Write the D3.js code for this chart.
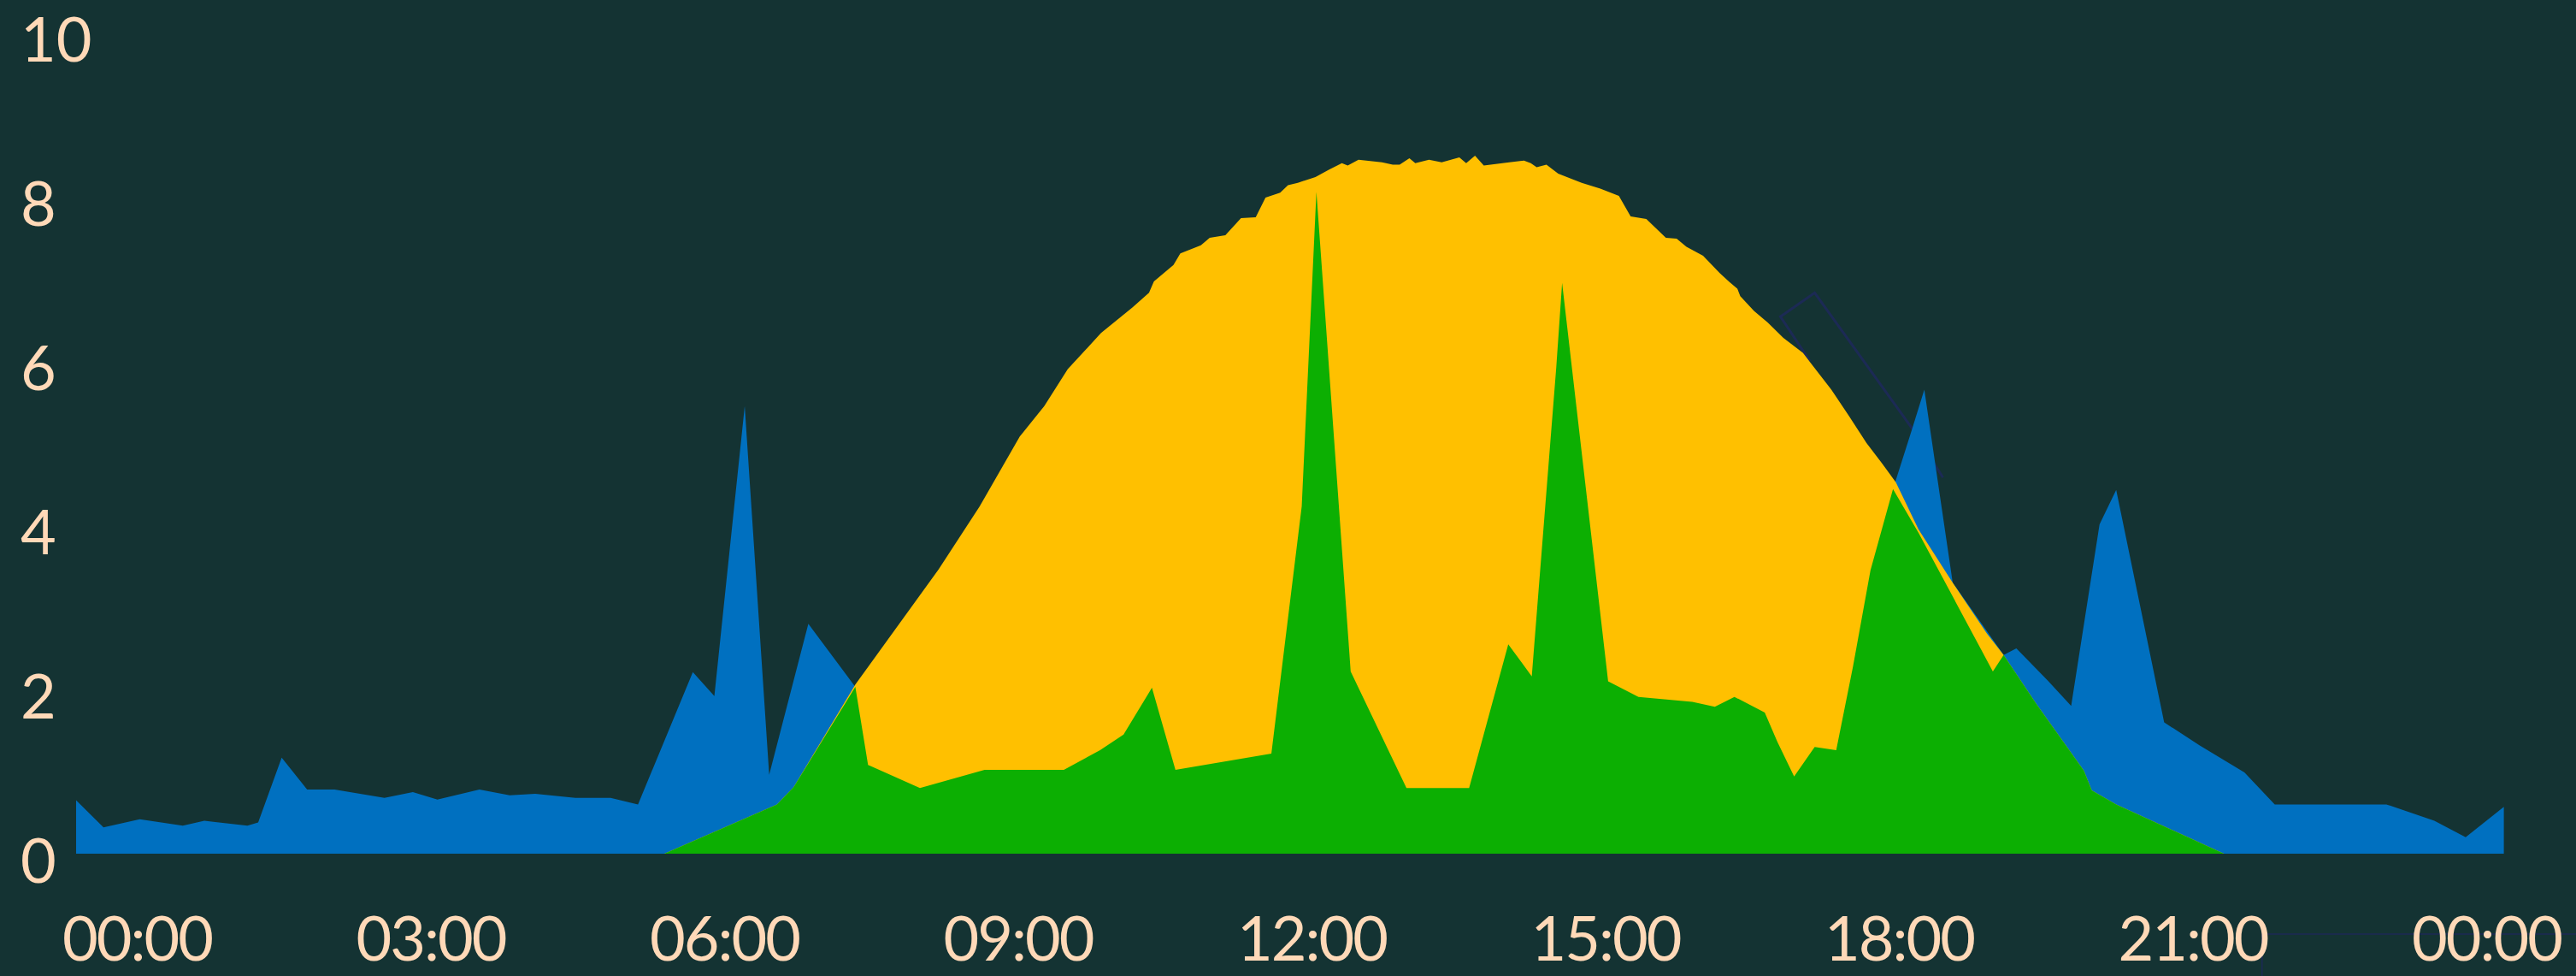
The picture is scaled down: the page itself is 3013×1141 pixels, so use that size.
<!DOCTYPE html>
<html>
<head>
<meta charset="utf-8">
<script src="https://cdn.jsdelivr.net/npm/d3@7/dist/d3.min.js"></script>
<style>
html,body{margin:0;padding:0;background:#143333;overflow:hidden;}
svg{display:block;}
</style>
</head>
<body>
<svg id="chart" width="3013" height="1141"></svg>
<script>
// ---- data (time in hours of day, value in kW) ----
const consumptionT = [-0.62,-0.34,0.03,0.47,0.69,1.13,1.24,1.48,1.74,2.02,2.53,2.82,3.07,3.50,3.81,4.07,4.48,4.84,5.12,5.68,5.90,6.21,6.46,6.86,7.34,7.47,8.00,8.66,9.47,9.84,10.08,10.37,10.61,11.59,11.90,12.03,12.40,12.97,13.61,14.01,14.25,14.50,14.56,15.03,15.34,15.89,16.12,16.32,16.63,16.76,16.93,17.14,17.36,17.53,17.71,17.94,18.14,18.26,18.55,19.07,19.20,19.52,19.76,20.05,20.22,20.71,21.07,21.53,21.84,22.98,23.47,23.79,24.18];
const consumptionV = [0.65,0.32,0.42,0.34,0.40,0.34,0.38,1.17,0.78,0.78,0.68,0.75,0.66,0.78,0.71,0.73,0.68,0.68,0.60,2.21,1.92,5.45,0.96,2.80,2.03,1.08,0.80,1.02,1.02,1.26,1.45,2.02,1.02,1.22,4.23,8.06,2.22,0.80,0.80,2.55,2.16,5.92,6.95,2.10,1.91,1.85,1.79,1.91,1.72,1.36,0.94,1.30,1.26,2.27,3.45,4.44,5.19,5.65,3.30,2.42,2.50,2.11,1.80,4.01,4.43,1.60,1.32,0.99,0.60,0.60,0.40,0.20,0.57];

const productionT = [5.39,6.54,6.71,7.34,8.19,8.61,9.02,9.27,9.51,9.85,10.17,10.34,10.39,10.59,10.66,10.87,10.96,11.12,11.28,11.43,11.53,11.68,11.76,11.86,12.04,12.18,12.31,12.37,12.48,12.72,12.83,12.90,13.00,13.06,13.20,13.33,13.51,13.58,13.67,13.76,14.02,14.17,14.24,14.30,14.40,14.52,14.76,14.95,15.14,15.26,15.42,15.62,15.73,15.83,16.00,16.17,16.27,16.35,16.38,16.52,16.66,16.82,17.02,17.09,17.31,17.49,17.67,17.83,17.97,18.20,18.55,18.90,19.07,19.40,19.89,19.97,20.22,21.32];
const productionV = [0,0.60,0.81,2.06,3.46,4.23,5.08,5.45,5.90,6.34,6.65,6.83,6.97,7.17,7.31,7.41,7.50,7.53,7.74,7.75,7.99,8.05,8.14,8.17,8.24,8.33,8.41,8.38,8.45,8.42,8.39,8.39,8.47,8.41,8.45,8.42,8.48,8.41,8.50,8.38,8.42,8.44,8.41,8.36,8.39,8.28,8.17,8.10,8.01,7.76,7.73,7.50,7.49,7.39,7.28,7.07,6.96,6.88,6.79,6.61,6.47,6.28,6.10,5.99,5.65,5.33,5.00,4.75,4.52,3.95,3.30,2.68,2.42,1.83,1.01,0.77,0.60,0];

const selfUseT = [5.39,6.54,6.71,7.34,7.47,8.00,8.66,9.47,9.84,10.08,10.37,10.61,11.59,11.90,12.05,12.40,12.97,13.61,14.01,14.25,14.50,14.56,15.03,15.34,15.89,16.12,16.32,16.63,16.76,16.93,17.14,17.36,17.53,17.71,17.94,18.20,18.96,19.07,19.40,19.89,19.97,20.22,21.32];
const selfUseV = [0,0.60,0.81,2.03,1.08,0.80,1.02,1.02,1.26,1.45,2.02,1.02,1.22,4.23,8.06,2.22,0.80,0.80,2.55,2.16,5.92,6.95,2.10,1.91,1.85,1.79,1.91,1.72,1.36,0.94,1.30,1.26,2.27,3.45,4.44,3.91,2.22,2.42,1.83,1.01,0.77,0.60,0];

// faint dark outline seen behind the areas near 17:00-18:30
const outlineT = [17.09,16.79,17.14,18.14,18.45];
const outlineV = [6.00,6.54,6.83,5.17,4.58];

const xTicks = [0,3,6,9,12,15,18,21,24];
const xTickLabels = ["00:00","03:00","06:00","09:00","12:00","15:00","18:00","21:00","00:00"];
const yTicks = [0,2,4,6,8,10];

// ---- layout ----
const W = 3013, H = 1141;
const x = d3.scaleLinear().domain([0,24]).range([160, 2908]);
const y = d3.scaleLinear().domain([0,10]).range([998, 38]);

const colors = {bg:"#143333", blue:"#0070c0", yellow:"#ffc000", green:"#0caf02", text:"#ffd9b8", navy:"#1c2a55"};

const svg = d3.select("#chart");
svg.append("rect").attr("width",W).attr("height",H).attr("fill",colors.bg);

const zip = (T,V) => T.map((t,i)=>({t, v:V[i]}));
const area = d3.area().x(d=>x(d.t)).y0(y(0)).y1(d=>y(d.v)).curve(d3.curveLinear);
const line = d3.line().x(d=>x(d.t)).y(d=>y(d.v));

// outline (below areas)
svg.append("path").datum(zip(outlineT,outlineV))
  .attr("d", line).attr("fill","none").attr("stroke",colors.navy).attr("stroke-width",3).attr("stroke-linejoin","miter");

svg.append("path").datum(zip(consumptionT,consumptionV)).attr("d",area).attr("fill",colors.blue);
svg.append("path").datum(zip(productionT,productionV)).attr("d",area).attr("fill",colors.yellow);
svg.append("path").datum(zip(selfUseT,selfUseV)).attr("d",area).attr("fill",colors.green);

// thin frame corner near bottom right
svg.append("path")
  .attr("d", `M${x(21.71)},${H+5} L${x(21.71)},${y(-0.98)} L${W+5},${y(-0.98)}`)
  .attr("fill","none").attr("stroke",colors.navy).attr("stroke-width",1.5);

const font = "Lato, 'Open Sans', sans-serif";

// x axis
const xAxis = d3.axisBottom(x).tickValues(xTicks).tickFormat((d,i)=>xTickLabels[i]).tickSize(0);
const gx = svg.append("g").attr("transform","translate(0,0)").call(xAxis);
gx.select(".domain").remove();
gx.selectAll("text")
  .attr("y",1123).attr("dy",null)
  .attr("fill",colors.text).attr("font-family",font).attr("font-size",72)
  .attr("letter-spacing","-2px").attr("text-anchor","middle");

// y axis
const yAxis = d3.axisLeft(y).tickValues(yTicks).tickFormat(d3.format("d")).tickSize(0);
const gy = svg.append("g").attr("transform","translate(24,0)").call(yAxis);
gy.select(".domain").remove();
gy.selectAll(".tick text")
  .attr("x",0).attr("dy",null).attr("y",33)
  .attr("text-anchor","start")
  .attr("fill",colors.text).attr("font-family",font).attr("font-size",72);
</script>
</body>
</html>
